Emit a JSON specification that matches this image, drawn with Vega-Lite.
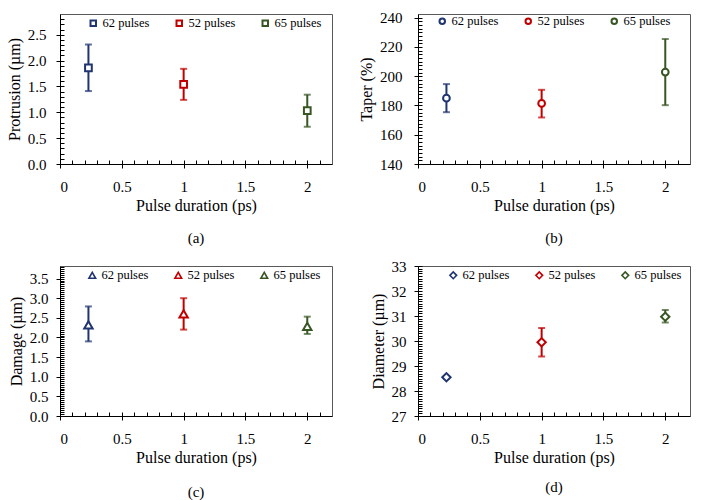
{
  "$schema": "https://vega.github.io/schema/vega-lite/v6.json",
  "background": "white",
  "padding": {"left": 5, "top": 10, "right": 0, "bottom": 0},
  "bounds": "flush",
  "columns": 2,
  "spacing": {"row": 102, "column": 86},
  "data": {
    "values": [
      {"panel": "a", "pulses": 62, "series": "62 pulses", "dur": 0.23, "mean": 1.86, "lo": 1.41, "hi": 2.31},
      {"panel": "a", "pulses": 52, "series": "52 pulses", "dur": 1.0, "mean": 1.54, "lo": 1.24, "hi": 1.84},
      {"panel": "a", "pulses": 65, "series": "65 pulses", "dur": 2.0, "mean": 1.03, "lo": 0.72, "hi": 1.34},
      {"panel": "b", "pulses": 62, "series": "62 pulses", "dur": 0.23, "mean": 185.0, "lo": 175.4, "hi": 194.6},
      {"panel": "b", "pulses": 52, "series": "52 pulses", "dur": 1.0, "mean": 181.4, "lo": 171.8, "hi": 190.7},
      {"panel": "b", "pulses": 65, "series": "65 pulses", "dur": 2.0, "mean": 202.8, "lo": 180.2, "hi": 225.4},
      {"panel": "c", "pulses": 62, "series": "62 pulses", "dur": 0.23, "mean": 2.32, "lo": 1.9, "hi": 2.79},
      {"panel": "c", "pulses": 52, "series": "52 pulses", "dur": 1.0, "mean": 2.6, "lo": 2.2, "hi": 3.0},
      {"panel": "c", "pulses": 65, "series": "65 pulses", "dur": 2.0, "mean": 2.28, "lo": 2.09, "hi": 2.53},
      {"panel": "d", "pulses": 62, "series": "62 pulses", "dur": 0.23, "mean": 28.55, "lo": 28.5, "hi": 28.6},
      {"panel": "d", "pulses": 52, "series": "52 pulses", "dur": 1.0, "mean": 29.95, "lo": 29.38, "hi": 30.52},
      {"panel": "d", "pulses": 65, "series": "65 pulses", "dur": 2.0, "mean": 30.97, "lo": 30.74, "hi": 31.24}
    ]
  },
  "concat": [
    {
      "width": 272, "height": 150,
      "title": {"text": "(a)", "orient": "bottom", "offset": 18},
      "transform": [{"filter": "datum.panel === 'a'"}],
      "layer": [
        {
          "mark": {"type": "errorbar", "ticks": true, "size": 7, "thickness": 2},
          "encoding": {
            "x": {"field": "dur", "type": "quantitative", "scale": {"domain": [0, 2.2], "nice": false},
              "axis": {"orient": "bottom", "values": [0, 0.5, 1, 1.5, 2], "format": "~g", "title": "Pulse duration  (ps)", "tickSize": 4, "labelPadding": 11, "titlePadding": 3}},
            "y": {"field": "lo", "type": "quantitative", "scale": {"domain": [0, 2.9], "nice": false},
              "axis": {"orient": "left", "values": [0, 0.5, 1, 1.5, 2, 2.5], "format": ".1f", "title": "Protrusion (µm)", "tickSize": 4, "labelPadding": 10, "titlePadding": 5}},
            "y2": {"field": "hi"},
            "color": {"field": "pulses", "type": "nominal", "scale": {"domain": [62, 52, 65], "range": ["#1F3470", "#C00000", "#375623"]}, "legend": null}
          }
        },
        {
          "mark": {"type": "point", "shape": "square", "fill": "white", "size": 45, "strokeWidth": 2, "opacity": 1},
          "encoding": {
            "x": {"field": "dur", "type": "quantitative", "scale": {"domain": [0, 2.2], "nice": false},
              "axis": {"orient": "bottom", "values": [0, 0.1, 0.2, 0.3, 0.4, 0.5, 0.6, 0.7, 0.8, 0.9, 1, 1.1, 1.2, 1.3, 1.4, 1.5, 1.6, 1.7, 1.8, 1.9, 2, 2.1], "labels": false, "domain": false, "tickSize": -4, "title": null}},
            "y": {"field": "mean", "type": "quantitative", "scale": {"domain": [0, 2.9], "nice": false},
              "axis": {"orient": "left", "values": [0, 0.1, 0.2, 0.3, 0.4, 0.5, 0.6, 0.7, 0.8, 0.9, 1, 1.1, 1.2, 1.3, 1.4, 1.5, 1.6, 1.7, 1.8, 1.9, 2, 2.1, 2.2, 2.3, 2.4, 2.5, 2.6, 2.7, 2.8], "labels": false, "domain": false, "tickSize": -4, "title": null}},
            "stroke": {"field": "series", "type": "nominal", "scale": {"domain": ["62 pulses", "52 pulses", "65 pulses"], "range": ["#1F3470", "#C00000", "#375623"]},
              "legend": {"orient": "none", "legendX": 27, "legendY": 3, "direction": "horizontal", "title": null, "symbolType": "square"}}
          }
        }
      ],
      "resolve": {"axis": {"x": "independent", "y": "independent"}}
    },
    {
      "width": 272, "height": 150,
      "title": {"text": "(b)", "orient": "bottom", "offset": 18},
      "transform": [{"filter": "datum.panel === 'b'"}],
      "layer": [
        {
          "mark": {"type": "errorbar", "ticks": true, "size": 7, "thickness": 2},
          "encoding": {
            "x": {"field": "dur", "type": "quantitative", "scale": {"domain": [0, 2.2], "nice": false},
              "axis": {"orient": "bottom", "values": [0, 0.5, 1, 1.5, 2], "format": "~g", "title": "Pulse duration (ps)", "tickSize": 4, "labelPadding": 11, "titlePadding": 3}},
            "y": {"field": "lo", "type": "quantitative", "scale": {"domain": [140, 242.5], "nice": false, "zero": false},
              "axis": {"orient": "left", "values": [140, 160, 180, 200, 220, 240], "format": "d", "title": "Taper  (%)", "tickSize": 4, "labelPadding": 12, "titlePadding": 5}},
            "y2": {"field": "hi"},
            "color": {"field": "pulses", "type": "nominal", "scale": {"domain": [62, 52, 65], "range": ["#1F3470", "#C00000", "#375623"]}, "legend": null}
          }
        },
        {
          "mark": {"type": "point", "shape": "circle", "fill": "white", "size": 45, "strokeWidth": 2, "opacity": 1},
          "encoding": {
            "x": {"field": "dur", "type": "quantitative", "scale": {"domain": [0, 2.2], "nice": false},
              "axis": {"orient": "bottom", "values": [0, 0.1, 0.2, 0.3, 0.4, 0.5, 0.6, 0.7, 0.8, 0.9, 1, 1.1, 1.2, 1.3, 1.4, 1.5, 1.6, 1.7, 1.8, 1.9, 2, 2.1], "labels": false, "domain": false, "tickSize": -4, "title": null}},
            "y": {"field": "mean", "type": "quantitative", "scale": {"domain": [140, 242.5], "nice": false, "zero": false},
              "axis": {"orient": "left", "values": [140, 142.5, 145, 147.5, 150, 152.5, 155, 157.5, 160, 162.5, 165, 167.5, 170, 172.5, 175, 177.5, 180, 182.5, 185, 187.5, 190, 192.5, 195, 197.5, 200, 202.5, 205, 207.5, 210, 212.5, 215, 217.5, 220, 222.5, 225, 227.5, 230, 232.5, 235, 237.5, 240], "labels": false, "domain": false, "tickSize": -4, "title": null}},
            "stroke": {"field": "series", "type": "nominal", "scale": {"domain": ["62 pulses", "52 pulses", "65 pulses"], "range": ["#1F3470", "#C00000", "#375623"]},
              "legend": {"orient": "none", "legendX": 18, "legendY": 1, "direction": "horizontal", "title": null, "symbolType": "circle"}}
          }
        }
      ],
      "resolve": {"axis": {"x": "independent", "y": "independent"}}
    },
    {
      "width": 272, "height": 150,
      "title": {"text": "(c)", "orient": "bottom", "offset": 20},
      "transform": [{"filter": "datum.panel === 'c'"}],
      "layer": [
        {
          "mark": {"type": "errorbar", "ticks": true, "size": 7, "thickness": 2},
          "encoding": {
            "x": {"field": "dur", "type": "quantitative", "scale": {"domain": [0, 2.2], "nice": false},
              "axis": {"orient": "bottom", "values": [0, 0.5, 1, 1.5, 2], "format": "~g", "title": "Pulse duration  (ps)", "tickSize": 4, "labelPadding": 11, "titlePadding": 3}},
            "y": {"field": "lo", "type": "quantitative", "scale": {"domain": [0, 3.82], "nice": false},
              "axis": {"orient": "left", "values": [0, 0.5, 1, 1.5, 2, 2.5, 3, 3.5], "format": ".1f", "title": "Damage (µm)", "tickSize": 4, "labelPadding": 8, "titlePadding": 5}},
            "y2": {"field": "hi"},
            "color": {"field": "pulses", "type": "nominal", "scale": {"domain": [62, 52, 65], "range": ["#1F3470", "#C00000", "#375623"]}, "legend": null}
          }
        },
        {
          "mark": {"type": "point", "shape": "triangle-up", "fill": "white", "size": 70, "strokeWidth": 2, "opacity": 1},
          "encoding": {
            "x": {"field": "dur", "type": "quantitative", "scale": {"domain": [0, 2.2], "nice": false},
              "axis": {"orient": "bottom", "values": [0, 0.1, 0.2, 0.3, 0.4, 0.5, 0.6, 0.7, 0.8, 0.9, 1, 1.1, 1.2, 1.3, 1.4, 1.5, 1.6, 1.7, 1.8, 1.9, 2, 2.1], "labels": false, "domain": false, "tickSize": -4, "title": null}},
            "y": {"field": "mean", "type": "quantitative", "scale": {"domain": [0, 3.82], "nice": false},
              "axis": {"orient": "left", "values": [0, 0.05, 0.1, 0.15, 0.2, 0.25, 0.3, 0.35, 0.4, 0.45, 0.5, 0.55, 0.6, 0.65, 0.7, 0.75, 0.8, 0.85, 0.9, 0.95, 1, 1.05, 1.1, 1.15, 1.2, 1.25, 1.3, 1.35, 1.4, 1.45, 1.5, 1.55, 1.6, 1.65, 1.7, 1.75, 1.8, 1.85, 1.9, 1.95, 2, 2.05, 2.1, 2.15, 2.2, 2.25, 2.3, 2.35, 2.4, 2.45, 2.5, 2.55, 2.6, 2.65, 2.7, 2.75, 2.8, 2.85, 2.9, 2.95, 3, 3.05, 3.1, 3.15, 3.2, 3.25, 3.3, 3.35, 3.4, 3.45, 3.5, 3.55, 3.6, 3.65, 3.7, 3.75, 3.8], "labels": false, "domain": false, "tickSize": -4, "title": null}},
            "stroke": {"field": "series", "type": "nominal", "scale": {"domain": ["62 pulses", "52 pulses", "65 pulses"], "range": ["#1F3470", "#C00000", "#375623"]},
              "legend": {"orient": "none", "legendX": 26, "legendY": 3, "direction": "horizontal", "title": null, "symbolType": "triangle-up", "symbolSize": 45, "symbolStrokeWidth": 1.6}}
          }
        }
      ],
      "resolve": {"axis": {"x": "independent", "y": "independent"}}
    },
    {
      "width": 272, "height": 150,
      "title": {"text": "(d)", "orient": "bottom", "offset": 15},
      "transform": [{"filter": "datum.panel === 'd'"}],
      "layer": [
        {
          "mark": {"type": "errorbar", "ticks": true, "size": 7, "thickness": 2},
          "encoding": {
            "x": {"field": "dur", "type": "quantitative", "scale": {"domain": [0, 2.2], "nice": false},
              "axis": {"orient": "bottom", "values": [0, 0.5, 1, 1.5, 2], "format": "~g", "title": "Pulse duration  (ps)", "tickSize": 4, "labelPadding": 11, "titlePadding": 3}},
            "y": {"field": "lo", "type": "quantitative", "scale": {"domain": [27, 33], "nice": false, "zero": false},
              "axis": {"orient": "left", "values": [27, 28, 29, 30, 31, 32, 33], "format": "d", "title": "Diameter (µm)", "tickSize": 4, "labelPadding": 8, "titlePadding": 5}},
            "y2": {"field": "hi"},
            "color": {"field": "pulses", "type": "nominal", "scale": {"domain": [62, 52, 65], "range": ["#1F3470", "#C00000", "#375623"]}, "legend": null}
          }
        },
        {
          "mark": {"type": "point", "shape": "diamond", "fill": "white", "size": 70, "strokeWidth": 2, "opacity": 1},
          "encoding": {
            "x": {"field": "dur", "type": "quantitative", "scale": {"domain": [0, 2.2], "nice": false},
              "axis": {"orient": "bottom", "values": [0, 0.1, 0.2, 0.3, 0.4, 0.5, 0.6, 0.7, 0.8, 0.9, 1, 1.1, 1.2, 1.3, 1.4, 1.5, 1.6, 1.7, 1.8, 1.9, 2, 2.1], "labels": false, "domain": false, "tickSize": -4, "title": null}},
            "y": {"field": "mean", "type": "quantitative", "scale": {"domain": [27, 33], "nice": false, "zero": false},
              "axis": {"orient": "left", "values": [27, 27.1, 27.2, 27.3, 27.4, 27.5, 27.6, 27.7, 27.8, 27.9, 28, 28.1, 28.2, 28.3, 28.4, 28.5, 28.6, 28.7, 28.8, 28.9, 29, 29.1, 29.2, 29.3, 29.4, 29.5, 29.6, 29.7, 29.8, 29.9, 30, 30.1, 30.2, 30.3, 30.4, 30.5, 30.6, 30.7, 30.8, 30.9, 31, 31.1, 31.2, 31.3, 31.4, 31.5, 31.6, 31.7, 31.8, 31.9, 32, 32.1, 32.2, 32.3, 32.4, 32.5, 32.6, 32.7, 32.8, 32.9, 33], "labels": false, "domain": false, "tickSize": -4, "title": null}},
            "stroke": {"field": "series", "type": "nominal", "scale": {"domain": ["62 pulses", "52 pulses", "65 pulses"], "range": ["#1F3470", "#C00000", "#375623"]},
              "legend": {"orient": "none", "legendX": 29, "legendY": 3, "direction": "horizontal", "title": null, "symbolType": "diamond", "symbolSize": 45, "symbolStrokeWidth": 1.6}}
          }
        }
      ],
      "resolve": {"axis": {"x": "independent", "y": "independent"}}
    }
  ],
  "resolve": {
    "scale": {"color": "independent", "stroke": "independent"},
    "legend": {"color": "independent", "stroke": "independent"}
  },
  "config": {
    "view": {"stroke": "#595959", "strokeWidth": 1},
    "axis": {
      "grid": false,
      "domainColor": "black", "tickColor": "black", "domainWidth": 1, "tickWidth": 1,
      "labelFont": "Liberation Serif", "labelFontSize": 15, "labelColor": "black",
      "titleFont": "Liberation Serif", "titleFontSize": 16, "titleFontWeight": "normal", "titleColor": "black"
    },
    "legend": {
      "labelFont": "Liberation Serif", "labelFontSize": 12.5, "labelColor": "black",
      "symbolSize": 30, "symbolStrokeWidth": 2, "symbolFillColor": "white",
      "labelOffset": 3, "columnPadding": 22, "padding": 0
    },
    "title": {"font": "Liberation Serif", "fontSize": 15, "fontWeight": "normal", "color": "black"}
  }
}
